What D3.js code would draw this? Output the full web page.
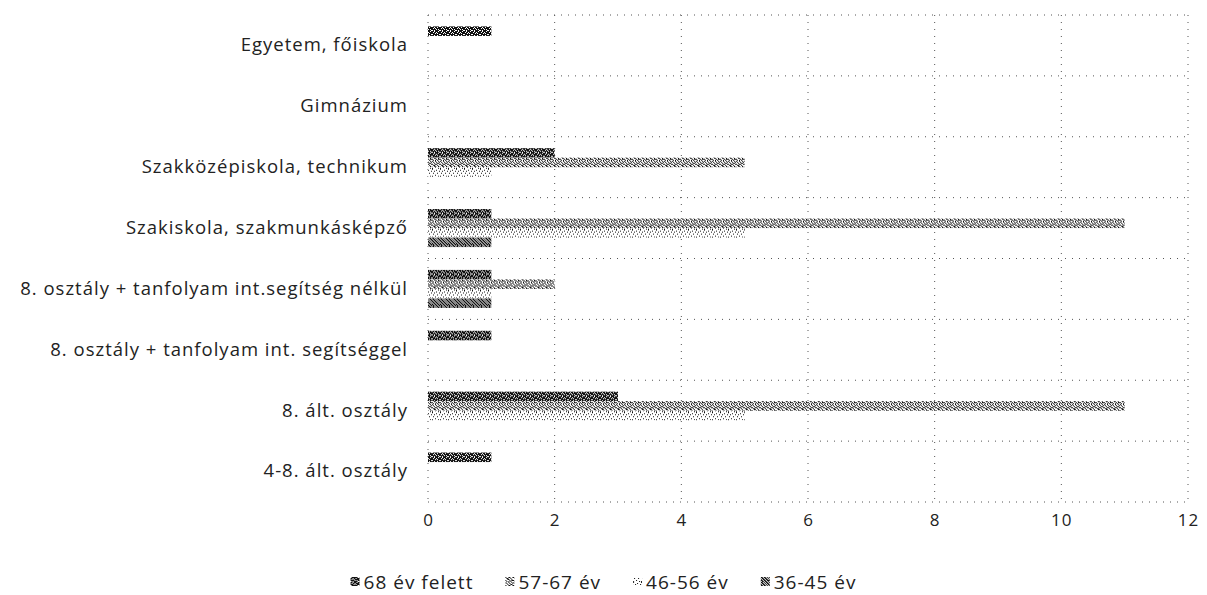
<!DOCTYPE html>
<html>
<head>
<meta charset="utf-8">
<script src="https://cdn.jsdelivr.net/npm/d3@7"></script>
<style>
  body { margin: 0; background: #fff; }
  text { font-family: "Open Sans", sans-serif; fill: #222; letter-spacing: 1px; }
</style>
</head>
<body>
<div id="chart"></div>
<script>
// categories top -> bottom
const categories = [
  "Egyetem, főiskola",
  "Gimnázium",
  "Szakközépiskola, technikum",
  "Szakiskola, szakmunkásképző",
  "8. osztály + tanfolyam int.segítség nélkül",
  "8. osztály + tanfolyam int. segítséggel",
  "8. ált. osztály",
  "4-8. ált. osztály",
];

const seriesNames = ["68 év felett", "57-67 év", "46-56 év", "36-45 év"];

const over68 = [1, 0, 2, 1, 1, 1, 3, 1];
const age57to67 = [0, 0, 5, 11, 2, 0, 11, 0];
const age46to56 = [0, 0, 1, 5, 1, 0, 5, 0];
const age36to45 = [0, 0, 0, 1, 1, 0, 0, 0];

const xTicks = [0, 2, 4, 6, 8, 10, 12];

const seriesValues = [over68, age57to67, age46to56, age36to45];

const width = 1207,
  height = 595;
const margin = { top: 15, right: 19, bottom: 93, left: 428 };

// little dither tiles, to look like the scanned greys
const tiles = [
  ["11011101", "10110111", "11101011", "01111110", "11011011", "10101111", "11110101", "01011110"],
  ["10010010", "01001001", "00100110", "10011001", "01100100", "00110010", "10001011", "01010100"],
  ["10000000", "00001000", "00100001", "00000000", "01000100", "00000000", "00010000", "10000010"],
  ["11010110", "01101011", "10110101", "11011010", "01101101", "10110110", "11011011", "01101101"],
];

const svg = d3
  .select("#chart")
  .append("svg")
  .attr("width", width)
  .attr("height", height);

const defs = svg.append("defs");
tiles.forEach((rows, i) => {
  const pat = defs
    .append("pattern")
    .attr("id", "pat" + i)
    .attr("patternUnits", "userSpaceOnUse")
    .attr("width", 8)
    .attr("height", 8);
  pat.append("rect").attr("width", 8).attr("height", 8).attr("fill", "#fff");
  rows.forEach((row, r) => {
    row.split("").forEach((c, k) => {
      if (c === "1")
        pat.append("rect").attr("x", k).attr("y", r).attr("width", 1).attr("height", 1).attr("fill", "#111");
    });
  });
});

const x = d3
  .scaleLinear()
  .domain([0, 12])
  .range([margin.left, width - margin.right]);

const y = d3
  .scaleBand()
  .domain(categories)
  .range([margin.top, height - margin.bottom]);

const ySub = d3
  .scaleBand()
  .domain(d3.range(seriesNames.length))
  .range([0, y.bandwidth()])
  .paddingOuter(1.2);

const gridColor = "#555";
const dash = "1,6";

// vertical grid
svg
  .append("g")
  .selectAll("line")
  .data(xTicks)
  .join("line")
  .attr("x1", (d) => x(d))
  .attr("x2", (d) => x(d))
  .attr("y1", margin.top)
  .attr("y2", height - margin.bottom)
  .attr("stroke", gridColor)
  .attr("stroke-dasharray", dash);

// horizontal separators between categories
const edges = categories.map((c) => y(c)).concat([height - margin.bottom]);
svg
  .append("g")
  .selectAll("line")
  .data(edges)
  .join("line")
  .attr("x1", margin.left)
  .attr("x2", width - margin.right)
  .attr("y1", (d) => d)
  .attr("y2", (d) => d)
  .attr("stroke", gridColor)
  .attr("stroke-dasharray", dash);

// bars
const groups = svg
  .append("g")
  .selectAll("g")
  .data(categories)
  .join("g")
  .attr("transform", (d) => `translate(0,${y(d)})`);

groups
  .selectAll("rect")
  .data((d, ci) => seriesValues.map((vals, si) => ({ si, v: vals[ci] })))
  .join("rect")
  .attr("x", x(0))
  .attr("y", (d) => ySub(d.si))
  .attr("width", (d) => x(d.v) - x(0))
  .attr("height", ySub.bandwidth())
  .attr("fill", (d) => `url(#pat${d.si})`);

// category labels
svg
  .append("g")
  .attr("transform", `translate(${margin.left - 20},0)`)
  .call(d3.axisLeft(y).tickSize(0).tickPadding(0))
  .call((g) => g.select(".domain").remove())
  .selectAll("text")
  .style("font-size", "18.5px")
  .attr("fill", "#222");

// value axis
svg
  .append("g")
  .attr("transform", `translate(0,${height - margin.bottom})`)
  .call(d3.axisBottom(x).tickValues(xTicks).tickSize(0).tickPadding(12))
  .call((g) => g.select(".domain").remove())
  .selectAll("text")
  .style("font-size", "17px")
  .attr("fill", "#222");

// legend
const legend = svg.append("g").attr("transform", "translate(0,582)");
const items = legend
  .selectAll("g")
  .data(seriesNames)
  .join("g");

items
  .append("rect")
  .attr("width", 9)
  .attr("height", 9)
  .attr("y", -5)
  .attr("fill", (d, i) => `url(#pat${i})`);

items
  .append("text")
  .attr("x", 13)
  .attr("dy", "0.35em")
  .style("font-size", "19px")
  .text((d) => d);

const gap = 32;
let pos = 0;
const offsets = [];
items.each(function () {
  offsets.push(pos);
  pos += this.getBBox().width + gap;
});
const totalW = pos - gap;
const startX = width / 2 - totalW / 2;
items.attr("transform", (d, i) => `translate(${startX + offsets[i]},0)`);
</script>
</body>
</html>
